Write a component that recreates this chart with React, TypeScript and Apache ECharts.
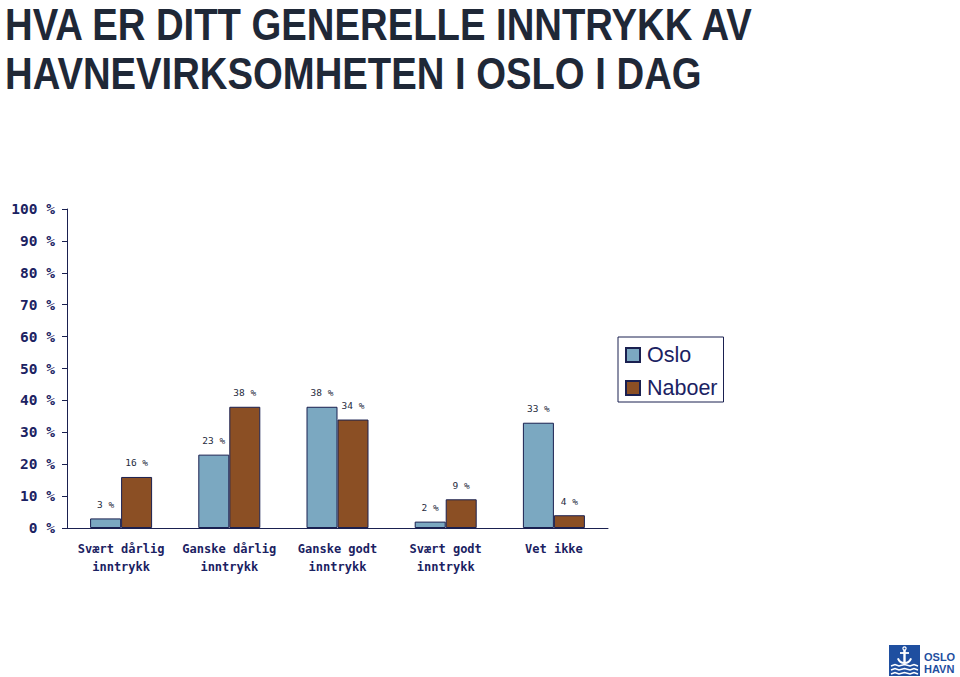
import React, { useEffect, useRef } from "react";
import * as echarts from "echarts";

const categories = ["Svært dårlig\ninntrykk", "Ganske dårlig\ninntrykk", "Ganske godt\ninntrykk", "Svært godt\ninntrykk", "Vet ikke"];
const osloValues = [3, 23, 38, 2, 33];
const naboerValues = [16, 38, 34, 9, 4];
const seriesNames = ["Oslo", "Naboer"];
const titleLines = ["HVA ER DITT GENERELLE INNTRYKK AV", "HAVNEVIRKSOMHETEN I OSLO I DAG"];

const NAVY = "#1b2262";
const EDGE = "#1a2050";

export default function App() {
  const ref = useRef<HTMLDivElement>(null);
  useEffect(() => {
    if (!ref.current) return;
    const chart = echarts.init(ref.current, undefined, { renderer: "svg" });
    const label = {
      show: true,
      position: "top",
      distance: 9,
      formatter: "{c} %",
      fontSize: 9.5,
      fontFamily: "DejaVu Sans Mono",
      color: "#262b40",
    };
    chart.setOption({
      animation: false,
      backgroundColor: "#ffffff",
      grid: { left: 67, right: 352, top: 209, bottom: 149, containLabel: false },
      legend: {
        data: seriesNames,
        orient: "vertical",
        left: 618,
        top: 337,
        borderColor: EDGE,
        borderWidth: 1,
        padding: [7, 6, 3, 7],
        itemWidth: 14,
        itemHeight: 14,
        itemGap: 11,
        icon: "rect",
        textStyle: { fontSize: 21.5, color: NAVY, fontFamily: "Liberation Sans", lineHeight: 20, padding: [0, 0, 0, 2] },
      },
      xAxis: {
        type: "category",
        data: categories,
        axisLine: { lineStyle: { color: EDGE, width: 1 } },
        axisTick: { length: 5, lineStyle: { color: EDGE } },
        axisLabel: {
          interval: 0,
          fontFamily: "DejaVu Sans Mono",
          fontWeight: "bold",
          fontSize: 12,
          color: NAVY,
          lineHeight: 18,
          margin: 12,
        },
      },
      yAxis: {
        type: "value",
        min: 0,
        max: 100,
        interval: 10,
        axisLine: { show: true, lineStyle: { color: EDGE, width: 1 } },
        axisTick: { show: true, length: 5, lineStyle: { color: EDGE } },
        splitLine: { show: false },
        axisLabel: {
          formatter: "{value} %",
          fontFamily: "DejaVu Sans Mono",
          fontWeight: "bold",
          fontSize: 14.5,
          color: NAVY,
          margin: 12,
        },
      },
      series: [
        {
          name: seriesNames[0],
          type: "bar",
          data: osloValues,
          barWidth: 31,
          barGap: "0%",
          itemStyle: { color: "#7ba8c1", borderColor: EDGE, borderWidth: 1 },
          label,
        },
        {
          name: seriesNames[1],
          type: "bar",
          data: naboerValues,
          barWidth: 31,
          barGap: "0%",
          itemStyle: { color: "#8b4f24", borderColor: EDGE, borderWidth: 1 },
          label,
        },
      ],
      graphic: [
        {
          type: "text",
          x: 5,
          y: 3,
          scaleX: 0.87,
          style: { text: titleLines[0], font: "bold 44px 'Liberation Sans'", fill: "#1f2837", textVerticalAlign: "top" },
        },
        {
          type: "text",
          x: 5,
          y: 52,
          scaleX: 0.87,
          style: { text: titleLines[1], font: "bold 44px 'Liberation Sans'", fill: "#1f2837", textVerticalAlign: "top" },
        },
        {
          type: "group",
          x: 889,
          y: 645,
          children: [
            { type: "rect", shape: { x: 0, y: 0, width: 31, height: 31 }, style: { fill: "#1f4fa0" } },
            { type: "circle", shape: { cx: 15.5, cy: 3.5, r: 1.6 }, style: { fill: "none", stroke: "#fff", lineWidth: 1.2 } },
            { type: "line", shape: { x1: 15.5, y1: 5, x2: 15.5, y2: 18 }, style: { stroke: "#fff", lineWidth: 2.4 } },
            { type: "line", shape: { x1: 11, y1: 8, x2: 20, y2: 8 }, style: { stroke: "#fff", lineWidth: 1.8 } },
            { type: "arc", shape: { cx: 15.5, cy: 11, r: 7, startAngle: 0.35, endAngle: Math.PI - 0.35 }, style: { stroke: "#fff", lineWidth: 2, fill: "none" } },
            { type: "polyline", shape: { points: [[2, 21], [6, 19.5], [10, 21], [15.5, 19.5], [21, 21], [25, 19.5], [29, 21]] }, style: { stroke: "#fff", lineWidth: 1.6, fill: "none" } },
            { type: "polyline", shape: { points: [[2, 25], [6, 23.5], [10, 25], [15.5, 23.5], [21, 25], [25, 23.5], [29, 25]] }, style: { stroke: "#fff", lineWidth: 1.6, fill: "none" } },
            { type: "polyline", shape: { points: [[2, 29], [6, 27.5], [10, 29], [15.5, 27.5], [21, 29], [25, 27.5], [29, 29]] }, style: { stroke: "#fff", lineWidth: 1.6, fill: "none" } },
            { type: "text", x: 35, y: 6, style: { text: "OSLO", font: "bold 11px 'Liberation Sans'", fill: "#1f4fa0", textVerticalAlign: "top" } },
            { type: "text", x: 35, y: 18, style: { text: "HAVN", font: "bold 11px 'Liberation Sans'", fill: "#1f4fa0", textVerticalAlign: "top" } },
          ],
        },
      ],
    });
    return () => chart.dispose();
  }, []);
  return <div ref={ref} style={{ width: 960, height: 677, position: "absolute", left: 0, top: 0 }} />;
}
